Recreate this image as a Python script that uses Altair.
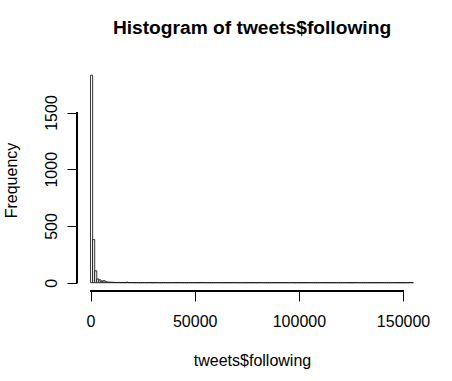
import altair as alt
import pandas as pd

# Histogram bin counts, 1000-wide bins starting at 0
counts = [
    1828, 380, 105, 33, 25, 15, 18, 8, 6, 5,
    4, 3, 2, 3, 1, 2, 1, 4, 1, 1,
    1, 0, 1, 0, 0, 1, 0, 0, 1, 0,
    0, 1, 0, 0, 0, 1, 0, 0, 0, 1,
    0, 0, 1, 0, 0, 0, 0, 1, 0, 0,
    0, 0, 0, 1, 0, 0, 0, 0, 0, 0,
    1, 0, 0, 0, 0, 0, 0, 0, 1, 0,
    0, 0, 0, 0, 0, 0, 0, 0, 0, 0,
    0, 1, 0, 0, 0, 0, 0, 0, 0, 0,
    0, 0, 0, 0, 0, 0, 1, 0, 0, 0,
    0, 0, 0, 0, 0, 0, 0, 0, 0, 0,
    0, 0, 0, 0, 0, 0, 0, 0, 0, 0,
    0, 0, 0, 0, 0, 0, 0, 1, 0, 0,
    0, 0, 0, 0, 0, 0, 0, 0, 0, 0,
    0, 0, 0, 0, 0, 0, 0, 0, 0, 0,
    0, 0, 0, 3, 0,
]
bin_width = 1000
x_ticks = [0, 50000, 100000, 150000]
y_ticks = [0, 500, 1000, 1500]

starts = [i * bin_width for i in range(len(counts))]
ends = [s + bin_width for s in starts]
df = pd.DataFrame({"start": starts, "end": ends, "count": counts})

FONT = "Liberation Sans"
W, H = 350, 224

xscale = alt.Scale(domain=[-6500, 161500], nice=False, zero=False)
yscale = alt.Scale(domain=[-73, 1901], nice=False, zero=False)

bars = alt.Chart(df).mark_rect(fill="white", stroke="black", strokeWidth=0.8).encode(
    x=alt.X("start:Q", scale=xscale,
            axis=alt.Axis(values=x_ticks, format="d", title="tweets$following",
                          domain=False, grid=False, tickSize=10, tickColor="black",
                          tickWidth=1, labelFont=FONT, labelFontSize=16,
                          labelColor="black", labelBaseline="alphabetic",
                          labelPadding=25, labelFlush=False,
                          titleFont=FONT, titleFontSize=16, titleFontWeight="normal",
                          titleColor="black", titleBaseline="alphabetic",
                          titleY=74.5, titleX=W / 2)),
    x2="end:Q",
    y=alt.Y("count:Q", scale=yscale,
            axis=alt.Axis(values=y_ticks, format="d", title="Frequency",
                          domain=False, grid=False, tickSize=10, tickColor="black",
                          tickWidth=1, labelAngle=-90, labelAlign="center",
                          labelBaseline="alphabetic", labelFont=FONT, labelFontSize=16,
                          labelColor="black", labelPadding=11, labelFlush=False,
                          titleFont=FONT, titleFontSize=16, titleFontWeight="normal",
                          titleColor="black", titleBaseline="alphabetic",
                          titleAngle=270, titleX=-60.5, titleY=H / 2 + 1)),
    y2=alt.datum(0),
)

xline = alt.Chart(df).mark_rule(color="black", strokeWidth=1).encode(
    x=alt.datum(x_ticks[0], scale=xscale), x2=alt.datum(x_ticks[-1]), y=alt.value(H)
)
yline = alt.Chart(df).mark_rule(color="black", strokeWidth=1).encode(
    y=alt.datum(y_ticks[0], scale=yscale), y2=alt.datum(y_ticks[-1]), x=alt.value(0)
)

chart = alt.layer(bars, xline, yline).properties(
    width=W, height=H,
    title=alt.TitleParams("Histogram of tweets$following", font=FONT, fontSize=19.2,
                          fontWeight="bold", color="black", anchor="middle",
                          offset=29),
    autosize=alt.AutoSizeParams(type="none"),
    padding={"left": 77, "top": 67, "right": 25, "bottom": 90},
).configure(background="white", view=alt.ViewConfig(stroke=None))

chart.save("out.html", embed_options={"renderer": "svg", "actions": False})
